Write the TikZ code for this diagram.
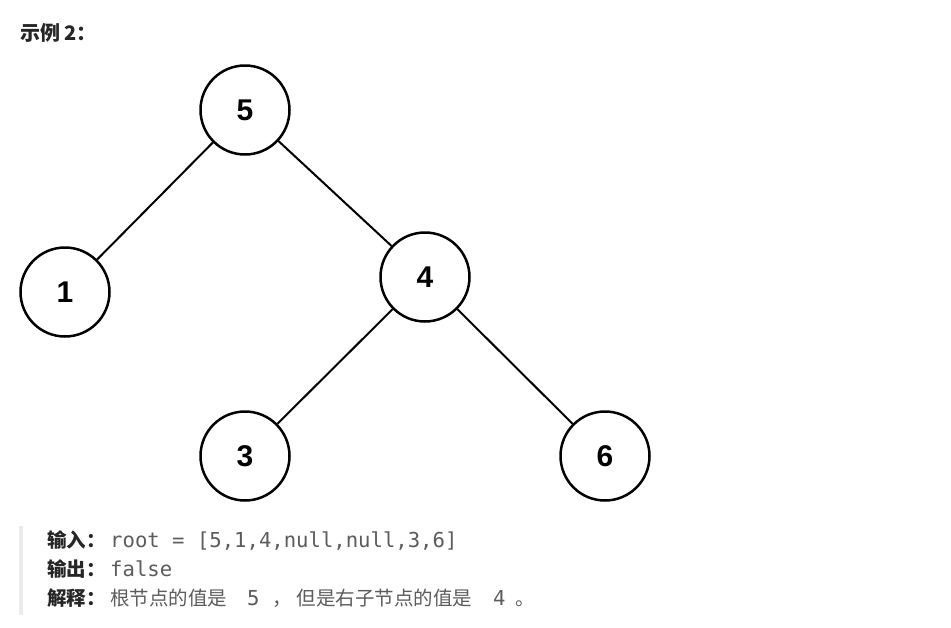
\documentclass[tikz,border=0pt]{standalone}
\usepackage{fontspec}
\setmainfont{Liberation Sans}
\newfontfamily\cjk{Noto Sans CJK SC}
\newfontfamily\monof{DejaVu Sans Mono}
\newfontfamily\digitf{Liberation Sans}
\definecolor{txtdark}{HTML}{262626}
\definecolor{txtgray}{HTML}{5C5C5C}
\definecolor{barcol}{HTML}{EBEBEB}
\tikzset{
  treenode/.style={circle, draw=black, line width=2.5pt, fill=white, minimum size=89pt, inner sep=0pt,
    font=\digitf\fontsize{30}{30}\selectfont\bfseries, text=black},
  edge/.style={draw=black, line width=2pt},
  lbl/.style={anchor=base west, inner sep=0pt, text=txtdark, font=\cjk\fontsize{19.5}{19.5}\selectfont\bfseries},
  val/.style={anchor=base west, inner sep=0pt, text=txtgray, font=\monof\fontsize{20.6}{20.6}\selectfont},
  valcjk/.style={anchor=base west, inner sep=0pt, text=txtgray, font=\cjk\fontsize{19.5}{19.5}\selectfont},
}
\begin{document}
\begin{tikzpicture}[x=1pt, y=-1pt]
\useasboundingbox (0,0) rectangle (951,627);
\fill[white] (0,0) rectangle (951,627);
\node[lbl, font=\cjk\fontsize{20}{20}\selectfont\bfseries] (title) at (20,40) {示例 2：};
\begin{scope}
\clip (0,0) rectangle (951,501);
\node[treenode] (n5) at (245,110) {5};
\node[treenode] (n1) at (65,292) {1};
\node[treenode] (n4) at (425,277) {4};
\node[treenode] (n3) at (245,456) {3};
\node[treenode] (n6) at (605,456) {6};
\draw[edge] (n5) -- (n1);
\draw[edge] (n5) -- (n4);
\draw[edge] (n4) -- (n3);
\draw[edge] (n4) -- (n6);
\end{scope}
\coordinate (bartop) at (20.5,526);
\coordinate (barbot) at (20.5,615);
\draw[barcol, line width=4pt] (bartop) -- (barbot);
\node[lbl] (l1) at (47,547) {输入：};
\node[val] (v1) at (110,547) {root = [5,1,4,null,null,3,6]};
\node[lbl] (l2) at (47,576) {输出：};
\node[val] (v2) at (110,576) {false};
\node[lbl] (l3) at (47,605) {解释：};
\node[valcjk] (v3) at (110,605) {根节点的值是\hspace{20pt}{\monof\fontsize{20.6}{20.6}\selectfont 5}\hspace{13pt}，\hspace{4.5pt}但是右子节点的值是\hspace{21pt}{\monof\fontsize{20.6}{20.6}\selectfont 4}\hspace{10pt}。};
\end{tikzpicture}
\end{document}
